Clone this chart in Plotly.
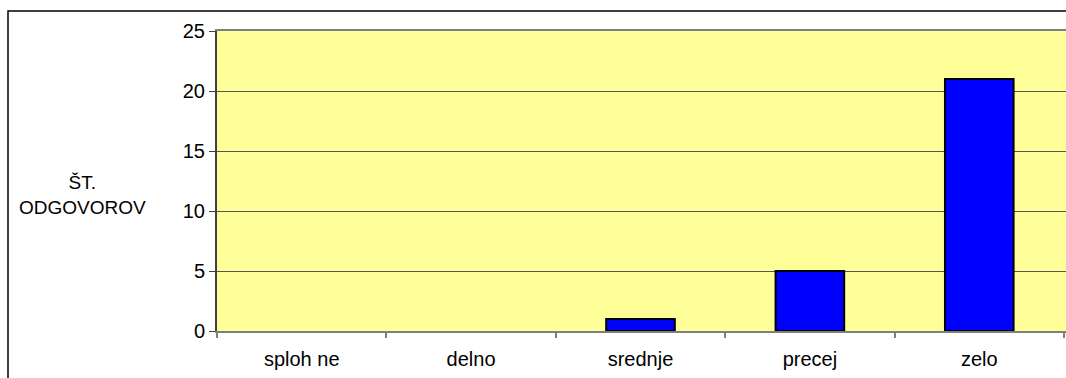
import plotly.graph_objects as go

# Survey answers and number of responses per answer
categories = ["sploh ne", "delno", "srednje", "precej", "zelo"]
counts = [0, 0, 1, 5, 21]
y_ticks = [0, 5, 10, 15, 20, 25]

W, H = 1066, 378
L, T, B, R = 217, 31, 47, 0
plot_w = W - L - R
plot_h = H - T - B

FAMILY = "Liberation Sans, Arial, sans-serif"

fig = go.Figure(
    go.Bar(
        x=categories,
        y=counts,
        marker=dict(
            color="#0000FF",
            # empty answers get no outline so nothing is drawn for them
            line=dict(color="#000000", width=[2 if c > 0 else 0 for c in counts]),
        ),
        width=0.405,
        hoverinfo="x+y",
    )
)

font = dict(family=FAMILY, size=20, color="#000000")

fig.update_layout(
    width=W,
    height=H,
    margin=dict(l=L, r=R, t=T, b=B, pad=0),
    paper_bgcolor="#FFFFFF",
    plot_bgcolor="#FFFF99",
    showlegend=False,
    font=font,
    xaxis=dict(
        type="category",
        range=[-0.5, 4.512],
        showgrid=False,
        showline=True,
        linecolor="#7F7F7F",
        linewidth=2,
        mirror=True,
        ticks="outside",
        tickson="boundaries",
        ticklen=5,
        tickcolor="#7F7F7F",
        tickwidth=2,
        tickfont=font,
        ticklabelstandoff=9,
        fixedrange=True,
    ),
    yaxis=dict(
        range=[0, 25],
        tickvals=y_ticks,
        showgrid=True,
        gridcolor="#555555",
        gridwidth=1,
        zeroline=False,
        showline=True,
        linecolor="#404040",
        linewidth=2,
        ticks="outside",
        ticklen=6,
        tickcolor="#404040",
        tickwidth=1,
        tickfont=dict(family=FAMILY, size=20, color="#000000"),
        fixedrange=True,
    ),
    annotations=[
        dict(
            text="ŠT.<br>ODGOVOROV",
            xref="paper",
            yref="paper",
            x=(82 - L) / plot_w,
            y=(H - B - 195) / plot_h,
            xanchor="center",
            yanchor="middle",
            align="center",
            showarrow=False,
            font=dict(family=FAMILY, size=19, color="#000000"),
        )
    ],
    shapes=[
        # outer chart frame, running past the right and bottom edges
        dict(
            type="rect",
            xref="paper",
            yref="paper",
            x0=(8 - L) / plot_w,
            x1=1.2,
            y0=-0.5,
            y1=(H - B - 11) / plot_h,
            line=dict(color="#000000", width=1.5),
            fillcolor="rgba(0,0,0,0)",
            layer="below",
        )
    ],
)

fig.write_html("out.html", config={"displayModeBar": False})
